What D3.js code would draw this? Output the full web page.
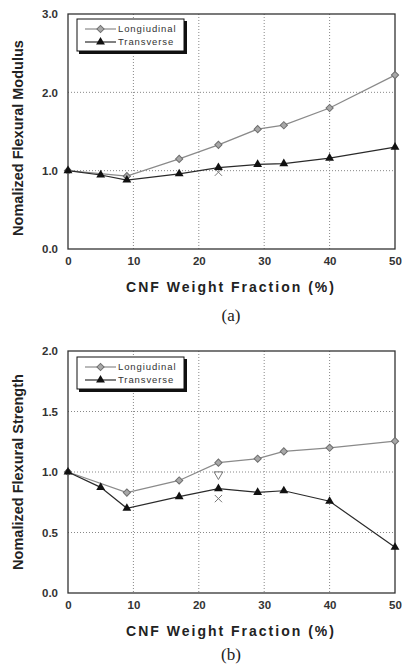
<!DOCTYPE html>
<html>
<head>
<meta charset="utf-8">
<script src="https://cdn.jsdelivr.net/npm/d3@7"></script>
<style>
    body { margin: 0; padding: 0; background: #fff; }
    svg { display: block; }
    .tick text { font-family: "Liberation Sans", Arial, sans-serif; font-weight: bold; font-size: 11.5px; fill: #333; }
</style>
</head>
<body>
<div id="chart"></div>
<script>
    // fraction values (%) and normalized results
    var xLong = [0, 9, 17, 23, 29, 33, 40, 50];
    var xTrans = [0, 5, 9, 17, 23, 29, 33, 40, 50];

    var modulusLong = [1.0, 0.93, 1.15, 1.33, 1.53, 1.58, 1.80, 2.22];
    var modulusTrans = [1.0, 0.945, 0.88, 0.96, 1.04, 1.08, 1.09, 1.16, 1.30];

    var strengthLong = [1.0, 0.83, 0.93, 1.077, 1.11, 1.17, 1.20, 1.255];
    var strengthTrans = [1.0, 0.873, 0.70, 0.796, 0.862, 0.832, 0.845, 0.758, 0.378];

    // stray single markers at 23 %
    var modulusExtra = [{x: 23, y: 0.98, type: "cross"}];
    var strengthExtra = [{x: 23, y: 0.98, type: "down"}, {x: 23, y: 0.78, type: "cross"}];

    var xTicks = [0, 10, 20, 30, 40, 50];
    var modulusTicks = [0, 1, 2, 3];
    var strengthTicks = [0, 0.5, 1, 1.5, 2];

    var seriesNames = ["Longiudinal", "Transverse"];

    var W = 402, H = 668;
    var svg = d3.select("#chart").append("svg")
        .attr("width", W)
        .attr("height", H);

    function zip(xs, ys) {
        return xs.map(function(x, i) { return {x: x, y: ys[i]}; });
    }

    function drawPanel(opt) {
        var x = d3.scaleLinear().domain([0, 50]).range([68, 395]);
        var y = d3.scaleLinear().domain(opt.yDomain).range([opt.bottom, opt.top]);
        var g = svg.append("g");

        // grid
        g.selectAll(".vgrid")
            .data(xTicks.slice(1, -1))
            .enter().append("line")
            .attr("x1", function(d) { return x(d); })
            .attr("x2", function(d) { return x(d); })
            .attr("y1", opt.top)
            .attr("y2", opt.bottom)
            .attr("stroke", "#888")
            .attr("stroke-dasharray", "1,2");
        g.selectAll(".hgrid")
            .data(opt.yTicks.slice(1, -1))
            .enter().append("line")
            .attr("x1", x(0))
            .attr("x2", x(50))
            .attr("y1", function(d) { return y(d); })
            .attr("y2", function(d) { return y(d); })
            .attr("stroke", "#888")
            .attr("stroke-dasharray", "1,2");

        // frame
        g.append("rect")
            .attr("x", x(0))
            .attr("y", opt.top)
            .attr("width", x(50) - x(0))
            .attr("height", opt.bottom - opt.top)
            .attr("fill", "none")
            .attr("stroke", "#333")
            .attr("stroke-width", 1.3);

        // axes
        g.append("g")
            .attr("transform", "translate(0," + opt.bottom + ")")
            .call(d3.axisBottom(x).tickValues(xTicks).tickSize(0).tickPadding(8).tickFormat(d3.format("d")))
            .call(function(a) { a.select(".domain").remove(); });
        g.append("g")
            .attr("transform", "translate(" + x(0) + ",0)")
            .call(d3.axisLeft(y).tickValues(opt.yTicks).tickSize(0).tickPadding(10).tickFormat(d3.format(".1f")))
            .call(function(a) { a.select(".domain").remove(); });

        // axis titles
        g.append("text")
            .attr("transform", "translate(19," + opt.yLabelMid + ") rotate(-90)")
            .attr("text-anchor", "middle")
            .attr("dominant-baseline", "middle")
            .style("font-family", "Liberation Sans, Arial, sans-serif")
            .style("font-weight", "bold")
            .style("font-size", "14.5px")
            .attr("fill", "#222")
            .text(opt.yLabel);
        g.append("text")
            .attr("x", 231)
            .attr("y", opt.bottom + 39)
            .attr("text-anchor", "middle")
            .attr("dominant-baseline", "middle")
            .style("font-family", "Liberation Sans, Arial, sans-serif")
            .style("font-weight", "bold")
            .style("font-size", "14px")
            .style("letter-spacing", "2px")
            .attr("fill", "#222")
            .text("CNF Weight Fraction (%)");
        g.append("text")
            .attr("x", 231)
            .attr("y", opt.bottom + opt.captionOffset)
            .attr("text-anchor", "middle")
            .attr("dominant-baseline", "middle")
            .style("font-family", "Liberation Serif, Times New Roman, serif")
            .style("font-size", "17px")
            .attr("fill", "#222")
            .text(opt.caption);

        var line = d3.line()
            .x(function(d) { return x(d.x); })
            .y(function(d) { return y(d.y); });

        var longData = zip(xLong, opt.longValues);
        var transData = zip(xTrans, opt.transValues);

        g.append("path")
            .datum(longData)
            .attr("d", line)
            .attr("fill", "none")
            .attr("stroke", "#8a8a8a")
            .attr("stroke-width", 1.3);
        g.append("path")
            .datum(transData)
            .attr("d", line)
            .attr("fill", "none")
            .attr("stroke", "#2a2a2a")
            .attr("stroke-width", 1.2);

        var diamond = d3.symbol().type(d3.symbolSquare).size(26);
        var triangle = d3.symbol().type(d3.symbolTriangle).size(34);

        // extra markers
        g.selectAll(".extra")
            .data(opt.extra)
            .enter().append("path")
            .attr("transform", function(d) {
                return "translate(" + x(d.x) + "," + y(d.y) + ")" + (d.type === "down" ? " rotate(180)" : "");
            })
            .attr("d", function(d) {
                return d.type === "down" ? triangle() : d3.symbol().type(d3.symbolX).size(36)();
            })
            .attr("fill", "none")
            .attr("stroke", "#777")
            .attr("stroke-width", 1);

        g.selectAll(".lp")
            .data(longData)
            .enter().append("path")
            .attr("transform", function(d) { return "translate(" + x(d.x) + "," + y(d.y) + ") rotate(45)"; })
            .attr("d", diamond)
            .attr("fill", "#a8a8a8")
            .attr("stroke", "#6e6e6e")
            .attr("stroke-width", 1);
        g.selectAll(".tp")
            .data(transData)
            .enter().append("path")
            .attr("transform", function(d) { return "translate(" + x(d.x) + "," + y(d.y) + ")"; })
            .attr("d", triangle)
            .attr("fill", "#111");

        // legend
        var lg = g.append("g").attr("transform", "translate(77," + opt.legendTop + ")");
        lg.append("rect")
            .attr("x", 2).attr("y", 2)
            .attr("width", 108).attr("height", 33)
            .attr("fill", "#111");
        lg.append("rect")
            .attr("width", 107).attr("height", 32)
            .attr("fill", "#fff")
            .attr("stroke", "#111")
            .attr("stroke-width", 1);
        var rows = lg.selectAll(".row")
            .data(seriesNames)
            .enter().append("g")
            .attr("transform", function(d, i) { return "translate(0," + (10 + i * 13) + ")"; });
        rows.append("line")
            .attr("x1", 8).attr("x2", 39)
            .attr("stroke", function(d, i) { return i === 0 ? "#8a8a8a" : "#2a2a2a"; })
            .attr("stroke-width", 1.2);
        rows.append("path")
            .attr("transform", function(d, i) { return "translate(23.5,0)" + (i === 0 ? " rotate(45)" : ""); })
            .attr("d", function(d, i) { return i === 0 ? diamond() : triangle(); })
            .attr("fill", function(d, i) { return i === 0 ? "#a8a8a8" : "#111"; })
            .attr("stroke", function(d, i) { return i === 0 ? "#6e6e6e" : "none"; });
        rows.append("text")
            .attr("x", 41)
            .attr("dominant-baseline", "middle")
            .style("font-family", "Liberation Sans, Arial, sans-serif")
            .style("font-size", "9.5px")
            .style("letter-spacing", "0.9px")
            .attr("fill", "#333")
            .text(function(d) { return d; });
    }

    drawPanel({
        top: 14, bottom: 249,
        yDomain: [0, 3], yTicks: modulusTicks,
        yLabel: "Nomalized Flexural Modulus",
        yLabelMid: 138,
        longValues: modulusLong, transValues: modulusTrans,
        extra: modulusExtra,
        legendTop: 19,
        caption: "(a)", captionOffset: 68
    });

    drawPanel({
        top: 351, bottom: 593,
        yDomain: [0, 2], yTicks: strengthTicks,
        yLabel: "Nomalized Flexural Strength",
        yLabelMid: 472,
        longValues: strengthLong, transValues: strengthTrans,
        extra: strengthExtra,
        legendTop: 357,
        caption: "(b)", captionOffset: 63
    });
</script>
</body>
</html>
